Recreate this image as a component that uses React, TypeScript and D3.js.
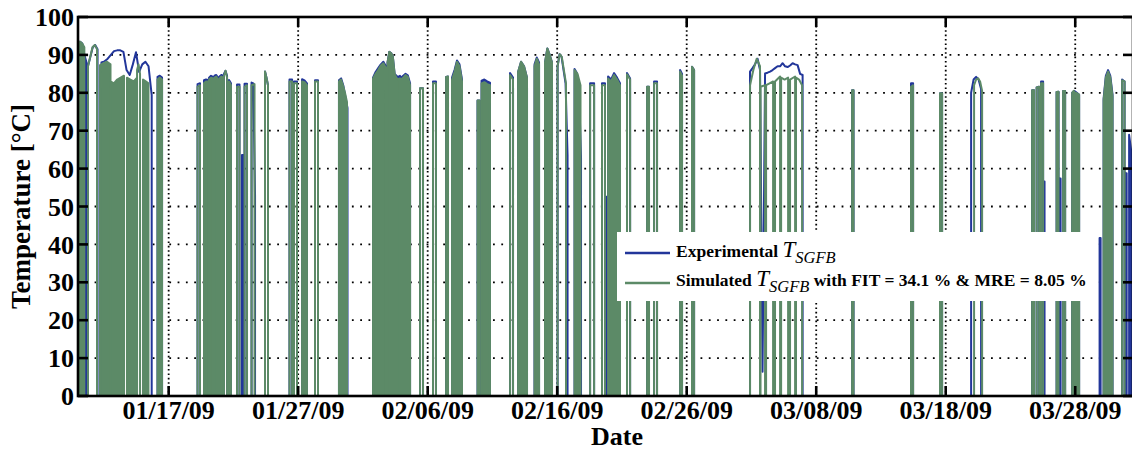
import React from 'react';
import * as d3 from 'd3';

// tick labels
const xTickLabels = ['01/17/09', '01/27/09', '02/06/09', '02/16/09', '02/26/09', '03/08/09', '03/18/09', '03/28/09'];
const yTicks = [0, 10, 20, 30, 40, 50, 60, 70, 80, 90, 100];
const startLabel = '01/10/09';
const spanDays = 81.46;

// one entry per collector run: [start day, end day, dense on/off cycling (1) or one swing (0), temps read along the run]
// days counted from 01/10/09 00:00
const experimental: [number, number, number, number[]][] = [
  [0.0, 0.66, 1, [93.4, 93.5, 93, 90, 88]],
  [0.77, 1.51, 0, [87, 89.5, 92, 92.6, 91.5]],
  [1.81, 5.69, 0, [88, 88.3, 89, 90, 91, 91.2, 91.2, 90.8, 86, 84.7, 87.5, 90.7, 85.5, 87.5, 88.2, 87, 79.4]],
  [6.14, 6.49, 1, [84.2, 84.5, 84]],
  [9.23, 9.42, 0, [82.3, 82.5]],
  [9.73, 10.04, 1, [83.3, 83.5, 83.4]],
  [10.12, 10.42, 1, [84, 84.5, 84.2]],
  [10.54, 10.81, 1, [84.5, 84.7, 84]],
  [10.93, 11.2, 1, [84.3, 84.7, 84.5]],
  [11.27, 11.51, 0, [85, 85.8, 84.5]],
  [11.66, 11.81, 0, [83.4, 82.5]],
  [12.28, 12.47, 0, [82.2, 82.2]],
  [12.66, 12.78, 0, [63.6, 63.6]],
  [12.86, 13.05, 0, [82.4, 82.4]],
  [13.4, 13.67, 0, [82.7, 82.5, 53]],
  [14.44, 14.67, 0, [85.6, 84, 82]],
  [16.33, 16.53, 0, [83.5, 83.5]],
  [16.68, 16.91, 0, [83, 83]],
  [17.3, 17.68, 1, [83.6, 83.3, 82.5]],
  [18.3, 18.53, 0, [83.3, 83.3]],
  [20.15, 20.81, 1, [83.3, 83.8, 82, 79, 76]],
  [22.78, 23.78, 1, [84, 85.5, 86.5, 87.5, 88.2, 87]],
  [23.9, 24.86, 1, [88, 90.8, 90.5, 89.5, 85, 84.5, 84.2, 84.5]],
  [24.94, 25.64, 1, [84, 84.5, 85, 84.6, 82.5]],
  [26.41, 26.64, 0, [81.2, 81.2]],
  [27.41, 27.64, 0, [83, 83]],
  [28.42, 28.57, 0, [84.2, 84.3]],
  [28.88, 29.65, 1, [84, 86, 88.5, 87.5, 83.5]],
  [30.85, 31.0, 0, [78, 78]],
  [31.16, 31.81, 1, [83.2, 83.5, 83, 82.7]],
  [33.36, 33.59, 0, [85.2, 84]],
  [33.98, 34.67, 1, [85.5, 88.2, 87, 84]],
  [35.25, 35.6, 1, [87.5, 89.3, 88]],
  [36.06, 36.6, 1, [88, 91.7, 90, 88]],
  [37.03, 37.8, 0, [87, 90.2, 89.5, 86, 82.5, 63.6]],
  [38.34, 38.84, 0, [86.3, 85.3, 82.3, 63]],
  [39.54, 39.85, 0, [82.5, 82.5]],
  [40.46, 40.69, 0, [82.5, 82.5]],
  [40.73, 40.81, 0, [52.6, 52.6]],
  [40.93, 41.85, 1, [84.3, 83.5, 85.2, 84, 82.5]],
  [42.39, 42.63, 0, [85.2, 83.8]],
  [43.94, 44.09, 0, [81.6, 81.6]],
  [44.48, 44.71, 0, [83, 83]],
  [46.49, 46.64, 0, [86, 85]],
  [47.41, 47.57, 0, [86.9, 86]],
  [51.89, 55.95, 0, [85.6, 86.5, 87.5, 89, 86, 6.4, 85.1, 85.3, 85.6, 86, 86.5, 87, 87, 87.8, 87, 86.8, 87.2, 87.8, 87.5, 87.3, 85, 84.7]],
  [59.77, 59.88, 0, [80.7, 80.7]],
  [64.32, 64.48, 0, [82.5, 82.5]],
  [66.56, 66.72, 0, [79.9, 79.9]],
  [68.96, 69.73, 0, [80, 83.5, 84.2, 83.5, 81]],
  [73.67, 73.82, 0, [80.7, 80.7]],
  [74.02, 74.21, 0, [81.4, 81.6]],
  [74.36, 74.52, 0, [83, 83]],
  [74.56, 74.63, 0, [56.6, 56.6]],
  [75.56, 75.71, 0, [80.2, 80.3]],
  [75.79, 75.87, 0, [57.4, 57.4]],
  [76.06, 76.22, 0, [80.5, 80.5]],
  [76.76, 77.3, 1, [80, 80.5, 80, 79.5]],
  [78.88, 78.96, 0, [41.7, 41.7]],
  [79.19, 79.88, 1, [78.5, 84.5, 86, 84.5, 79.5]],
  [80.62, 80.81, 0, [83.5, 83]],
  [80.89, 80.97, 0, [58.8, 58.8]],
  [81.16, 81.31, 0, [68.9, 65]],
];

const simulated: [number, number, number, number[]][] = [
  [0.0, 0.49, 1, [93.4, 93.5, 93, 92]],
  [0.77, 1.47, 0, [87, 89.5, 92, 92.6, 91.5]],
  [1.7, 2.51, 1, [87.3, 87.8, 88.2, 87.5]],
  [2.51, 3.55, 1, [83, 82.5, 83.5, 84, 84.5]],
  [3.78, 4.56, 1, [84, 83.5, 83, 84]],
  [4.56, 4.79, 0, [86, 87.5, 85]],
  [5.02, 5.44, 1, [83.5, 83, 82.5]],
  [6.14, 6.49, 1, [83.5, 84, 83.5]],
  [9.23, 9.42, 0, [81.6, 82]],
  [9.73, 10.04, 1, [82.5, 83, 83]],
  [10.12, 10.42, 1, [83.5, 84, 83.8]],
  [10.54, 10.81, 1, [84, 84.3, 83.5]],
  [10.93, 11.2, 1, [83.8, 84.3, 84]],
  [11.27, 11.51, 0, [84.5, 85.8, 84]],
  [11.66, 11.81, 0, [83, 82]],
  [12.28, 12.47, 0, [81.6, 81.6]],
  [12.86, 13.05, 0, [81.6, 82]],
  [13.4, 13.63, 0, [82, 82.3]],
  [14.44, 14.67, 0, [85.6, 84, 82]],
  [16.33, 16.53, 0, [83, 83]],
  [16.68, 16.91, 0, [82.5, 82.5]],
  [17.3, 17.68, 1, [83, 82.8, 82]],
  [18.3, 18.53, 0, [83, 83]],
  [20.15, 20.77, 1, [83, 83.5, 82, 80, 77.5]],
  [22.78, 23.78, 1, [83.8, 85, 86, 87.2, 87.8, 86.5]],
  [23.9, 24.86, 1, [88, 90.8, 90.5, 89.5, 85, 84, 83.6, 83.8]],
  [24.94, 25.64, 1, [83.5, 84, 84.7, 84.2, 82]],
  [26.41, 26.64, 0, [81.2, 81.2]],
  [27.41, 27.64, 0, [82.5, 82.5]],
  [28.42, 28.57, 0, [84.2, 84.3]],
  [28.88, 29.65, 1, [83.5, 85.5, 88.2, 87, 83]],
  [30.85, 31.0, 0, [78, 78]],
  [31.16, 31.81, 1, [82.5, 82.8, 82.3, 82]],
  [33.36, 33.59, 0, [84.7, 83.5]],
  [33.98, 34.67, 1, [85.5, 88.2, 87, 84]],
  [35.25, 35.6, 1, [87, 89, 87.5]],
  [36.06, 36.6, 1, [88, 91.7, 90, 88]],
  [37.03, 37.68, 0, [87, 90.2, 89.5, 86, 82.5]],
  [38.34, 38.8, 1, [86, 85, 82]],
  [39.54, 39.85, 0, [82, 82]],
  [40.46, 40.69, 0, [82, 82]],
  [40.93, 41.85, 1, [83.8, 83, 84.7, 83.5, 82]],
  [42.39, 42.63, 0, [84.9, 83.5]],
  [43.94, 44.09, 0, [81.6, 81.6]],
  [44.48, 44.71, 0, [82.5, 82.5]],
  [46.49, 46.64, 0, [85.6, 84.5]],
  [47.41, 47.57, 0, [86.9, 86]],
  [51.89, 52.66, 0, [82, 86, 89, 87]],
  [52.7, 53.05, 0, [81.6, 82]],
  [53.13, 53.67, 0, [82, 82.5, 83]],
  [53.82, 54.21, 0, [83, 84.3]],
  [54.29, 54.83, 0, [84, 83.5, 84]],
  [54.98, 55.37, 0, [83.5, 84.3]],
  [55.44, 55.91, 0, [84, 83.5, 82]],
  [59.77, 59.88, 0, [80.7, 80.7]],
  [64.32, 64.48, 0, [81.6, 82]],
  [66.56, 66.72, 0, [79.9, 79.9]],
  [69.19, 69.81, 0, [82, 83.5, 83.8, 83, 80.5]],
  [73.67, 73.82, 0, [80.7, 80.7]],
  [74.02, 74.21, 0, [81.4, 81.6]],
  [74.36, 74.52, 0, [82.5, 82.5]],
  [75.56, 75.71, 0, [80.2, 80.3]],
  [76.06, 76.22, 0, [80.5, 80.5]],
  [76.76, 76.99, 1, [80, 80.5, 80]],
  [77.07, 77.3, 1, [80, 79.5]],
  [79.19, 79.88, 1, [78, 84, 85.6, 84, 79]],
  [80.62, 80.81, 0, [83.3, 83]],
];

const BLUE = '#22369a';
const GREEN = '#5c8a67';
const FONT = '"Liberation Serif", "Times New Roman", serif';

const left = 78, right = 1133, top = 17, bottom = 396;

export default function App() {
  const parse = d3.utcParse('%m/%d/%y');
  const t0 = parse(startLabel) as Date;
  const DAY = 864e5;
  const x = d3.scaleUtc().domain([t0, new Date(+t0 + spanDays * DAY)]).range([left, right]);
  const y = d3.scaleLinear().domain([0, 100]).range([bottom, top]);
  const at = (d: number) => x(new Date(+t0 + d * DAY));

  const runTop = (r: [number, number, number, number[]]) => {
    const [a, b, , temps] = r;
    const n = temps.length;
    return temps.map((v, i) => [at(a + ((b - a) * i) / (n - 1)), y(v)] as [number, number]);
  };

  const linePath = (runs: [number, number, number, number[]][]) => {
    const pts: [number, number][] = [[at(0), y(0)]];
    runs.forEach(r => {
      const tp = runTop(r);
      pts.push([tp[0][0], y(0)], ...tp, [tp[tp.length - 1][0], y(0)]);
    });
    pts.push([right, y(0)]);
    return d3.line()(pts) || '';
  };

  const area = d3.area<[number, number]>().x(d => d[0]).y0(y(0)).y1(d => d[1]);
  const densePath = (runs: [number, number, number, number[]][]) =>
    runs.filter(r => r[2] === 1).map(r => area(runTop(r)) || '').join('');

  const xTicks = xTickLabels.map(l => parse(l) as Date);

  return (
    <svg width={1132} height={450} style={{ position: 'absolute', left: 0, top: 0, background: '#fff' }}
      fontFamily={FONT} fontWeight="bold">
      <defs>
        <clipPath id="plot"><rect x={left} y={top} width={right - left} height={bottom - top} /></clipPath>
      </defs>
      {/* grid */}
      <g stroke="#000" strokeWidth={1.8} fill="none">
        {yTicks.filter(v => v > 0 && v < 100).map(v => (
          <line key={'gy' + v} x1={left} x2={right} y1={y(v)} y2={y(v)} strokeDasharray="1.8 6.5" />
        ))}
        {xTicks.map((d, i) => (
          <line key={'gx' + i} x1={x(d)} x2={x(d)} y1={top} y2={bottom} strokeDasharray="1.6 2.8" />
        ))}
      </g>
      {/* data */}
      <g clipPath="url(#plot)" strokeLinejoin="round">
        <path d={densePath(experimental)} fill={BLUE} stroke="none" />
        <path d={linePath(experimental)} fill="none" stroke={BLUE} strokeWidth={2} />
        <path d={densePath(simulated)} fill={GREEN} stroke="none" />
        <path d={linePath(simulated)} fill="none" stroke={GREEN} strokeWidth={2} />
      </g>
      {/* axes box and ticks */}
      <g stroke="#000" strokeWidth={2.6} fill="none">
        <rect x={left} y={top} width={right - left} height={bottom - top} />
        {yTicks.map(v => (
          <g key={'ty' + v}>
            <line x1={left} x2={left + 10} y1={y(v)} y2={y(v)} />
            <line x1={right} x2={right - 10} y1={y(v)} y2={y(v)} />
          </g>
        ))}
        {xTicks.map((d, i) => (
          <g key={'tx' + i}>
            <line x1={x(d)} x2={x(d)} y1={bottom} y2={bottom - 10} />
            <line x1={x(d)} x2={x(d)} y1={top} y2={top + 10} />
          </g>
        ))}
      </g>
      {/* tick labels */}
      <g fontSize={26} fill="#000">
        {yTicks.map(v => (
          <text key={'ly' + v} x={left - 4} y={y(v)} dy="0.35em" textAnchor="end">{v}</text>
        ))}
        {xTicks.map((d, i) => (
          <text key={'lx' + i} x={x(d)} y={419} textAnchor="middle">{xTickLabels[i]}</text>
        ))}
      </g>
      <text x={617} y={445} fontSize={26} textAnchor="middle">Date</text>
      <text transform={`translate(30, ${(top + bottom) / 2}) rotate(-90)`} fontSize={27} textAnchor="middle">Temperature [°C]</text>
      {/* legend */}
      <g>
        <rect x={617} y={232} width={481} height={69} fill="#fff" />
        <line x1={625} x2={670} y1={253} y2={253} stroke={BLUE} strokeWidth={2.6} />
        <line x1={625} x2={670} y1={283} y2={283} stroke={GREEN} strokeWidth={2.6} />
        <text x={676} y={257} fontSize={17.5}>
          <tspan>Experimental </tspan>
          <tspan fontStyle="italic" fontWeight="normal" fontSize={23}>T</tspan>
          <tspan fontStyle="italic" fontWeight="normal" fontSize={16.5} dy={6}>SGFB</tspan>
        </text>
        <text x={676} y={286} fontSize={17.5}>
          <tspan>Simulated </tspan>
          <tspan fontStyle="italic" fontWeight="normal" fontSize={23}>T</tspan>
          <tspan fontStyle="italic" fontWeight="normal" fontSize={16.5} dy={6}>SGFB</tspan>
          <tspan dy={-6}> with FIT = 34.1 % &amp; MRE = 8.05 %</tspan>
        </text>
      </g>
    </svg>
  );
}
